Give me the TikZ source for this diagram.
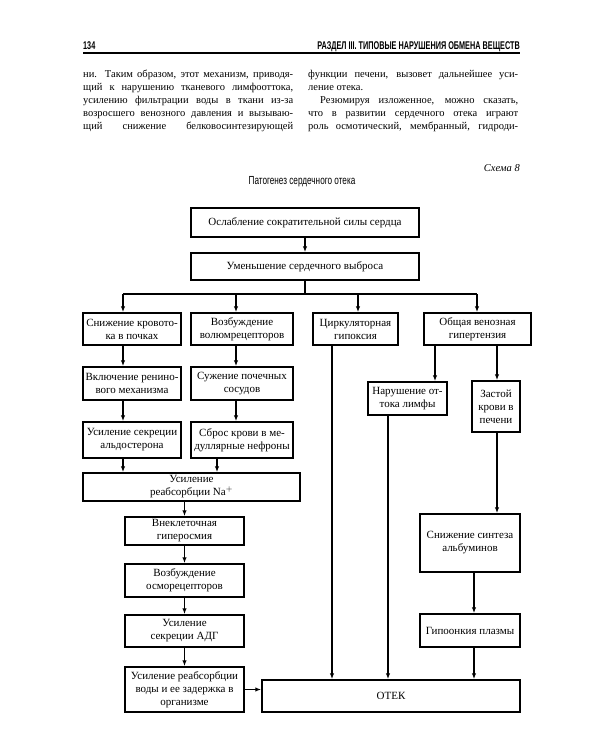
\documentclass[tikz,border=0pt]{standalone}
\usepackage{fontspec}
\setmainfont{Liberation Serif}
\newfontfamily\narrowfont[FakeStretch=0.7]{Liberation Sans}
\newfontfamily\narrowbold[FakeStretch=0.65]{Liberation Sans Bold}
\usetikzlibrary{arrows.meta}

\begin{document}
\begin{tikzpicture}[x=1pt,y=-1pt,font=\fontsize{11}{13}\selectfont,
box/.style={draw,line width=1.5pt,fill=white,align=center,inner sep=2pt},
arr/.style={-{Latex[length=6pt,width=4.5pt]},line width=1.3pt},
ln/.style={line width=1.3pt},
txt/.style={inner sep=0pt,anchor=north west,text width=210pt,align=justify,font=\fontsize{10.5}{13}\selectfont},
head/.style={inner sep=0pt,font=\narrowbold\fontsize{11.2}{12}\selectfont}]

\fill[white](0,0)rectangle(600,750);
\useasboundingbox(0,0)rectangle(600,750);

\node[head,anchor=base west](page)at(83,49){134};
\node[head,anchor=base east](part)at(520,49){РАЗДЕЛ III. ТИПОВЫЕ НАРУШЕНИЯ ОБМЕНА ВЕЩЕСТВ};
\draw[line width=1.4pt](83,53)--(520,53);

\node[txt](colL)at(83,70){ни. Таким образом, этот механизм, приводя-\linebreak
щий к нарушению тканевого лимфооттока,\linebreak
усилению фильтрации воды в ткани из-за\linebreak
возросшего венозного давления и вызываю-\linebreak
щий снижение белковосинтезирующей\parfillskip=0pt\par};
\node[txt](colR)at(308,70){функции печени, вызовет дальнейшее уси-\linebreak
ление отека.\par
\hspace*{12pt}Резюмируя изложенное, можно сказать,\linebreak
что в развитии сердечного отека играют\linebreak
роль осмотический, мембранный, гидроди-\parfillskip=0pt\par};

\node[inner sep=0pt,anchor=base east,font=\itshape\fontsize{10.5}{12}\selectfont](scheme)at(520,171){Схема 8};
\node[inner sep=0pt,anchor=base,font=\narrowfont\fontsize{11.7}{12}\selectfont](title)at(302,184){Патогенез сердечного отека};

\node[box,minimum width=228pt,minimum height=29pt](top1)at(305,222.5){Ослабление сократительной силы сердца};
\node[box,minimum width=228pt,minimum height=27pt](top2)at(305,266.5){Уменьшение сердечного выброса};

\node[box,minimum width=98pt,minimum height=32pt](a1)at(132,329){Снижение кровото-\\ка в почках};
\node[box,minimum width=102pt,minimum height=32pt](a2)at(242,329){Возбуждение\\волюмрецепторов};
\node[box,minimum width=85pt,minimum height=32pt](a3)at(355.5,329){Циркуляторная\\гипоксия};
\node[box,minimum width=107pt,minimum height=32pt](a4)at(477.5,329){Общая венозная\\гипертензия};

\node[box,minimum width=98pt,minimum height=33pt](b1)at(132,383.5){Включение ренино-\\вого механизма};
\node[box,minimum width=102pt,minimum height=33pt](b2)at(242,383.5){Сужение почечных\\сосудов};
\node[box,minimum width=98pt,minimum height=36pt](c1)at(132,440){Усиление секреции\\альдостерона};
\node[box,minimum width=102pt,minimum height=36pt](c2)at(242,440){Сброс крови в ме-\\дуллярные нефроны};
\node[box,minimum width=217pt,minimum height=28pt](na)at(191.5,487){Усиление\\реабсорбции Na$^+$};

\node[box,minimum width=119pt,minimum height=28pt](d1)at(184.5,531){Внеклеточная\\гиперосмия};
\node[box,minimum width=119pt,minimum height=33pt](d2)at(184.5,580.5){Возбуждение\\осморецепторов};
\node[box,minimum width=119pt,minimum height=32pt](d3)at(184.5,631){Усиление\\секреции АДГ};
\node[box,minimum width=119pt,minimum height=45pt](d4)at(184.5,689.5){Усиление реабсорбции\\воды и ее задержка в\\организме};

\node[box,minimum width=79pt,minimum height=33pt](lym)at(407.5,398.5){Нарушение от-\\тока лимфы};
\node[box,minimum width=48pt,minimum height=51pt](liv)at(496,406.5){Застой\\крови в\\печени};
\node[box,minimum width=100pt,minimum height=58pt](alb)at(470,543){Снижение синтеза\\альбуминов};
\node[box,minimum width=100pt,minimum height=33pt](onc)at(470,630.5){Гипоонкия плазмы};
\node[box,minimum width=258pt,minimum height=32pt](otek)at(391,696){ОТЕК};

\coordinate(busL)at(123,294);\coordinate(busR)at(477,294);
\coordinate(dropB)at(236,294);\coordinate(dropC)at(358,294);
\coordinate(sodIn)at(217,294);\coordinate(hypDn)at(332,294);
\coordinate(lymIn)at(435,294);\coordinate(lymDn)at(388,294);
\coordinate(livIn)at(497,294);\coordinate(albDn)at(474,294);

\draw[arr](top1)--(top2);
\draw[ln](top2.south)--(top2.south|-busL);\draw[ln](busL)--(busR);
\draw[arr](busL)--(busL|-a1.north);\draw[arr](dropB)--(dropB|-a2.north);
\draw[arr](dropC)--(dropC|-a3.north);\draw[arr](busR)--(busR|-a4.north);
\draw[arr](busL|-a1.south)--(busL|-b1.north);\draw[arr](busL|-b1.south)--(busL|-c1.north);
\draw[arr](busL|-c1.south)--(busL|-na.north);
\draw[arr](dropB|-a2.south)--(dropB|-b2.north);\draw[arr](dropB|-b2.south)--(dropB|-c2.north);
\draw[arr](sodIn|-c2.south)--(sodIn|-na.north);
\draw[arr](na.south-|d1.north)--(d1);\draw[arr](d1)--(d2);\draw[arr](d2)--(d3);\draw[arr](d3)--(d4);
\draw[arr](d4.east)--(d4.east-|otek.west);
\draw[arr](hypDn|-a3.south)--(hypDn|-otek.north);
\draw[arr](lymIn|-a4.south)--(lymIn|-lym.north);\draw[arr](livIn|-a4.south)--(livIn|-liv.north);
\draw[arr](lymDn|-lym.south)--(lymDn|-otek.north);
\draw[arr](livIn|-liv.south)--(livIn|-alb.north);
\draw[arr](albDn|-alb.south)--(albDn|-onc.north);\draw[arr](albDn|-onc.south)--(albDn|-otek.north);
\end{tikzpicture}
\end{document}
